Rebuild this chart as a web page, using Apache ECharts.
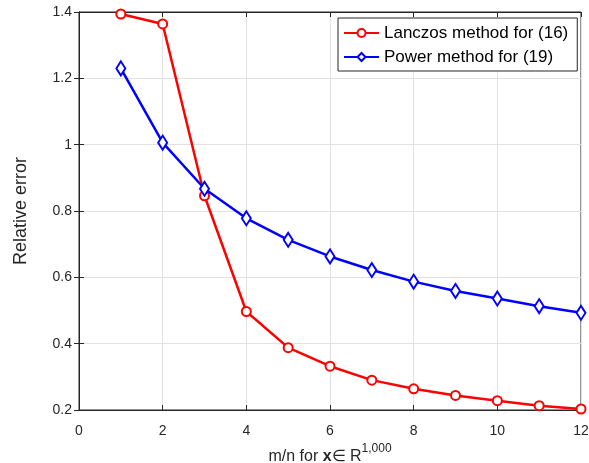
<!DOCTYPE html>
<html>
<head>
<meta charset="utf-8">
<script src="https://cdn.jsdelivr.net/npm/echarts@6/dist/echarts.min.js"></script>
<style>html,body{margin:0;padding:0;background:#fff}#c{width:589px;height:463px}</style>
</head>
<body>
<div id="c"></div>
<script>
const xValues = [1,2,3,4,5,6,7,8,9,10,11,12];
const lanczos = [1.394,1.364,0.846,0.497,0.388,0.332,0.29,0.264,0.244,0.228,0.213,0.203];
const power = [1.23,1.006,0.867,0.778,0.713,0.663,0.622,0.587,0.559,0.536,0.513,0.493];
const seriesNames = ['Lanczos method for (16)','Power method for (19)'];

const font = 'Liberation Sans, Arial, Helvetica, sans-serif';
const axisColor = '#262626';
const chart = echarts.init(document.getElementById('c'));
const pairs = a => xValues.map((x,i)=>[x,a[i]]);
const common = {
  axisLine:{show:true,lineStyle:{color:'#262626',width:1}},
  axisTick:{show:true,inside:true,length:5,lineStyle:{color:'#262626'}},
};
chart.setOption({
  animation:false,
  grid:{left:79,right:8,top:12,bottom:53,show:true,borderColor:'#262626',borderWidth:1,containLabel:false,outerBoundsMode:'none'},
  legend:{
    top:18,left:338,orient:'vertical',
    backgroundColor:'#fff',borderColor:'#262626',borderWidth:1,
    padding:[5,9,4,5],itemGap:4,itemWidth:35,itemHeight:10,
    textStyle:{fontFamily:font,fontSize:17,color:'#000',lineHeight:20},
    data:seriesNames
  },
  xAxis:[{
    type:'value',min:0,max:12,interval:2,position:'bottom',
    ...common,
    splitLine:{show:true,lineStyle:{color:'#e2e2e2',width:1}},
    axisLabel:{fontFamily:font,fontSize:14,color:axisColor,margin:14},
    name:'{a|m/n for }{b|x}{a|∈ R}{s|1,000}',
    nameLocation:'middle',nameGap:28,
    nameTextStyle:{rich:{
      a:{fontFamily:font,fontSize:16,color:axisColor,verticalAlign:'bottom',lineHeight:22},
      b:{fontFamily:font,fontSize:16,color:axisColor,fontWeight:'bold',verticalAlign:'bottom',lineHeight:22},
      s:{fontFamily:font,fontSize:12,color:axisColor,verticalAlign:'top',lineHeight:22,padding:[0,0,10,0]}
    }}
  },{
    type:'value',min:0,max:12,interval:2,position:'top',
    ...common,axisLabel:{show:false},splitLine:{show:false}
  }],
  yAxis:[{
    type:'value',min:0.2,max:1.4,interval:0.2,position:'left',
    ...common,
    splitLine:{show:true,lineStyle:{color:'#e2e2e2',width:1}},
    axisLabel:{fontFamily:font,fontSize:14,color:axisColor,margin:7},
    name:'Relative error',nameLocation:'middle',nameGap:49,nameRotate:90,
    nameTextStyle:{fontFamily:font,fontSize:18,color:axisColor}
  },{
    type:'value',min:0.2,max:1.4,interval:0.2,position:'right',
    ...common,axisLabel:{show:false},splitLine:{show:false}
  }],
  series:[{
    name:seriesNames[0],type:'line',data:pairs(lanczos),
    symbol:'emptyCircle',symbolSize:9,
    lineStyle:{color:'#ff0000',width:2.5},
    itemStyle:{color:'#ff0000',borderColor:'#ff0000',borderWidth:2.5},
    clip:false,z:3
  },{
    name:seriesNames[1],type:'line',data:pairs(power),
    symbol:'emptyDiamond',symbolSize:[9,14],
    lineStyle:{color:'#0000ff',width:2.5},
    itemStyle:{color:'#0000ff',borderColor:'#0000ff',borderWidth:2.5},
    clip:false,z:4
  }]
});
</script>
</body>
</html>
